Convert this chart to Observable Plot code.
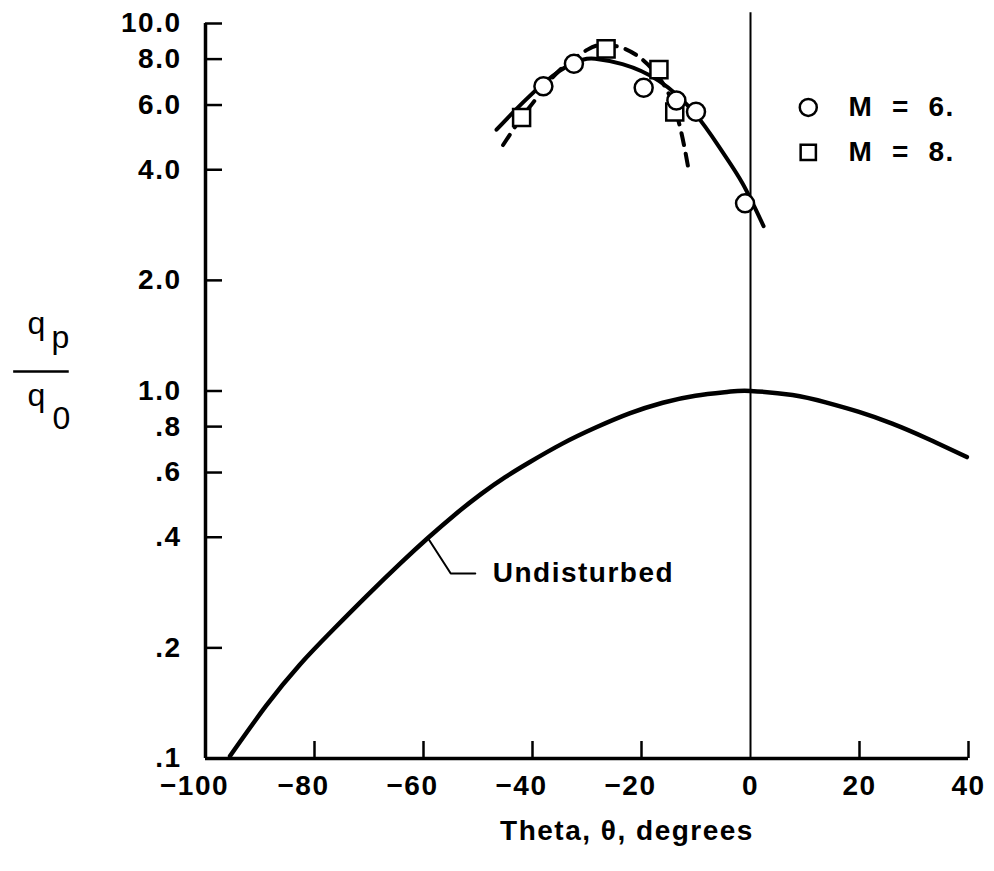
<!DOCTYPE html>
<html>
<head>
<meta charset="utf-8">
<script src="https://cdn.jsdelivr.net/npm/d3@7"></script>
<script src="https://cdn.jsdelivr.net/npm/@observablehq/plot@0.6"></script>
<style>
  body { margin: 0; background: #fff; }
  svg { display: block; }
  svg text { letter-spacing: 1.5px; }
</style>
</head>
<body>
<div id="chart"></div>
<script>
// ---- Data ----
// Undisturbed curve
const undisturbedTheta = [-95.5, -88.9, -82.7, -76.6, -70.4, -64.2, -59.2, -54.3, -49.4, -45.0, -40.7, -34.6, -28.5, -22.2, -16.1, -10.1, -4.0, 0.0, 7.7, 13.8, 19.9, 26.0, 32.1, 39.7];
const undisturbedQ     = [0.1016, 0.139, 0.180, 0.224, 0.277, 0.340, 0.398, 0.460, 0.525, 0.583, 0.638, 0.718, 0.794, 0.869, 0.929, 0.971, 0.995, 1.0, 0.975, 0.931, 0.877, 0.815, 0.746, 0.661];

// M = 6 measured points and faired curve
const m6Theta = [-38.0, -32.4, -19.6, -13.6, -10.0, -1.0];
const m6Q     = [6.75, 7.77, 6.69, 6.17, 5.75, 3.24];
const m6FitTheta = [-46.6, -41.4, -35.1, -30.8, -28.5, -23.5, -16.8, -10.2, -5.3, -1.4, 2.4];
const m6FitQ     = [5.14, 6.17, 7.42, 7.97, 8.02, 7.75, 6.98, 5.69, 4.51, 3.66, 2.81];

// M = 8 measured points and faired (dashed) curve
const m8Theta = [-42.0, -26.5, -16.8, -13.9];
const m8Q     = [5.55, 8.53, 7.49, 5.74];
const m8FitTheta = [-45.4, -42.0, -39.5, -35.4, -29.9, -27.2, -23.9, -19.8, -15.9, -13.2, -11.3];
const m8FitQ     = [4.67, 5.55, 6.20, 7.37, 8.49, 8.73, 8.62, 7.97, 6.81, 5.42, 3.96];

// Axes ticks
const xTicks = [-100, -80, -60, -40, -20, 0, 20, 40];
const yTicks = [0.1, 0.2, 0.4, 0.6, 0.8, 1, 2, 4, 6, 8, 10];
const yTickLabels = [".1", ".2", ".4", ".6", ".8", "1.0", "2.0", "4.0", "6.0", "8.0", "10.0"];

// Legend
const legendLabels = ["M = 6.", "M = 8."];
const legendSymbols = ["circle", "square"];

// ---- Build tables ----
const zip = (xs, ys) => xs.map((x, i) => ({theta: x, q: ys[i]}));
const undisturbed = zip(undisturbedTheta, undisturbedQ);
const m6 = zip(m6Theta, m6Q);
const m6Fit = zip(m6FitTheta, m6FitQ);
const m8 = zip(m8Theta, m8Q);
const m8Fit = zip(m8FitTheta, m8FitQ);
const yLabelMap = new Map(yTicks.map((d, i) => [d, yTickLabels[i]]));
const legendQ = [5.91, 4.46];
const legend = legendLabels.map((label, i) => ({label, symbol: legendSymbols[i], q: legendQ[i]}));

const FONT = "'Liberation Sans', Arial, Helvetica, sans-serif";
const tickUp = 0.1 * Math.pow(10, 17 / 367.5);   // short inward tick on the x axis
const tickRight = -100 + 17 / 5.45;               // short inward tick on the y axis

const chart = Plot.plot({
  width: 994,
  height: 871,
  marginLeft: 205,
  marginRight: 26,
  marginTop: 23,
  marginBottom: 113,
  style: {fontFamily: FONT, background: "white", color: "black", overflow: "visible"},
  x: {domain: [-100, 40], axis: null},
  y: {type: "log", domain: [0.1, 10], axis: null},
  marks: [
    // y tick labels
    Plot.axisY(yTicks, {anchor: "left", tickSize: 0, tickPadding: 24, tickFormat: d => yLabelMap.get(d),
      fontSize: 28, fontWeight: "bold", label: null}),
    // x tick labels (negatives shifted so digits centre on tick)
    Plot.axisX(xTicks.filter(d => d < 0), {anchor: "bottom", tickSize: 0, tickPadding: 17, dx: -11,
      tickFormat: d => "\u2212" + Math.abs(d), fontSize: 28, fontWeight: "bold", label: null}),
    Plot.axisX(xTicks.filter(d => d >= 0), {anchor: "bottom", tickSize: 0, tickPadding: 17,
      tickFormat: d => String(d), fontSize: 28, fontWeight: "bold", label: null}),
    // frame lines
    Plot.ruleX([-100], {y1: 0.1, y2: 10, strokeWidth: 3.5}),
    Plot.ruleY([0.1], {x1: -100, x2: 40, strokeWidth: 3.5}),
    // inward ticks
    Plot.ruleY(yTicks.filter(d => d > 0.1), {x1: -100, x2: tickRight, strokeWidth: 2.5}),
    Plot.ruleX(xTicks.filter(d => d !== -100 && d !== 0), {y1: 0.1, y2: tickUp, strokeWidth: 2.5}),
    // theta = 0 reference line
    Plot.ruleX([0], {y1: 0.1, y2: 10.7, strokeWidth: 2}),
    // curves
    Plot.line(undisturbed, {x: "theta", y: "q", curve: "natural", strokeWidth: 4.5}),
    Plot.line(m6Fit, {x: "theta", y: "q", curve: "natural", strokeWidth: 4}),
    Plot.line(m8Fit, {x: "theta", y: "q", curve: "natural", strokeWidth: 4, strokeDasharray: "12,9"}),
    // measured points
    Plot.dot(m8, {x: "theta", y: "q", symbol: "square", r: 9.6, fill: "white", stroke: "black", strokeWidth: 2.5}),
    Plot.dot(m6, {x: "theta", y: "q", symbol: "circle", r: 9, fill: "white", stroke: "black", strokeWidth: 2.5}),
    // Undisturbed leader & label
    Plot.line([{theta: -59.2, q: 0.398}, {theta: -55.0, q: 0.3187}, {theta: -50.5, q: 0.3187}],
      {x: "theta", y: "q", strokeWidth: 2}),
    Plot.text(["Undisturbed"], {x: -47.3, y: 0.3187, text: d => d, textAnchor: "start", fontSize: 28, fontWeight: "bold"}),
    // legend
    Plot.dot(legend.filter(d => d.symbol === "circle"), {x: 10.6, y: "q", symbol: "circle", r: 8.5, fill: "white", stroke: "black", strokeWidth: 2.5}),
    Plot.dot(legend.filter(d => d.symbol === "square"), {x: 10.6, y: "q", symbol: "square", r: 8.6, fill: "white", stroke: "black", strokeWidth: 2.5}),
    Plot.text(legend, {x: 18, y: "q", text: d => d.label.replace(/ /g, "\u00a0\u00a0"), textAnchor: "start", fontSize: 28, fontWeight: "bold"}),
    // x axis title
    Plot.text(["Theta, \u03b8, degrees"], {frameAnchor: "bottom", text: d => d, dx: 40, dy: 62, lineAnchor: "top", fontSize: 28, fontWeight: "bold"}),
    // y axis title (fraction q_p / q_0)
    Plot.text(["q"], {frameAnchor: "left", text: d => d, dx: -178, dy: -67, fontSize: 32}),
    Plot.text(["p"], {frameAnchor: "left", text: d => d, dx: -154, dy: -53, fontSize: 32}),
    Plot.ruleY([1.13], {x1: -135.2, x2: -125.0, strokeWidth: 2.5}),
    Plot.text(["q"], {frameAnchor: "left", text: d => d, dx: -178, dy: 5, fontSize: 32}),
    Plot.text(["0"], {frameAnchor: "left", text: d => d, dx: -153, dy: 28, fontSize: 32})
  ]
});

document.getElementById("chart").appendChild(chart);
</script>
</body>
</html>
